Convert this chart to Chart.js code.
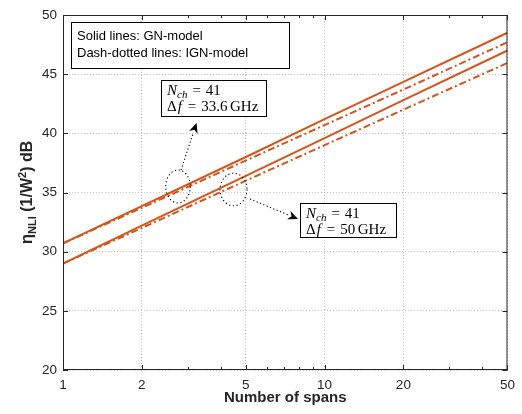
<!DOCTYPE html>
<html>
<head>
<meta charset="utf-8">
<script src="https://cdn.jsdelivr.net/npm/chart.js@4/dist/chart.umd.min.js"></script>
<style>
  html, body { margin: 0; padding: 0; background: #fff; }
  #wrap { width: 522px; height: 414px; }
</style>
</head>
<body>
<div id="wrap"><canvas id="c" width="522" height="414"></canvas></div>
<script>
// Number of spans at which the curves are sampled
const spans = [1, 2, 5, 10, 20, 50];

// eta_NLI in dB, 41 channels, 33.6 GHz spacing
const gn336 = [30.7, 33.85, 38.0, 41.2, 44.35, 48.5];
const ign336 = [30.7, 33.7, 37.7, 40.7, 43.7, 47.7];
// eta_NLI in dB, 41 channels, 50 GHz spacing
const gn50 = [29.0, 32.2, 36.4, 39.6, 42.8, 47.0];
const ign50 = [29.0, 32.0, 36.0, 39.0, 42.0, 45.95];

// Axis ticks
const xTicks = [1, 2, 3, 4, 5, 6, 7, 8, 9, 10, 20, 30, 40, 50];
const xLabelled = [1, 2, 5, 10, 20, 50];
const yTicks = [20, 25, 30, 35, 40, 45, 50];

const ORANGE = '#D95319';
const AXIS = '#262626';
const SANS = '"Liberation Sans", Arial, Helvetica, sans-serif';
const SERIF = '"Liberation Serif", "Times New Roman", serif';
const DASHDOT = [7, 3, 2, 3];

const pts = arr => spans.map((s, i) => ({ x: s, y: arr[i] }));

function series(label, arr, dashed) {
  return {
    label, data: pts(arr),
    borderColor: ORANGE, backgroundColor: ORANGE,
    borderWidth: 2, pointRadius: 0, tension: 0,
    borderDash: dashed ? DASHDOT : []
  };
}

// Draws a line of mixed normal / subscript / superscript runs
function richText(ctx, x, y, runs) {
  let cx = x;
  for (const r of runs) {
    cx += r.gap || 0;
    ctx.font = r.font;
    ctx.fillText(r.t, cx, y + (r.dy || 0));
    cx += ctx.measureText(r.t).width;
  }
  return cx;
}

function dottedArrow(ctx, x0, y0, x1, y1) {
  const a = Math.atan2(y1 - y0, x1 - x0);
  const L = 10, W = 4.5;
  const bx = x1 - L * Math.cos(a), by = y1 - L * Math.sin(a);
  ctx.save();
  ctx.strokeStyle = '#000'; ctx.lineWidth = 1.1;
  ctx.setLineDash([1.2, 2.4]);
  ctx.beginPath(); ctx.moveTo(x0, y0); ctx.lineTo(bx, by); ctx.stroke();
  ctx.setLineDash([]);
  ctx.fillStyle = '#000';
  ctx.beginPath();
  ctx.moveTo(x1, y1);
  ctx.lineTo(bx + W * Math.sin(a), by - W * Math.cos(a));
  ctx.lineTo(x1 - (L - 3) * Math.cos(a), y1 - (L - 3) * Math.sin(a));
  ctx.lineTo(bx - W * Math.sin(a), by + W * Math.cos(a));
  ctx.closePath(); ctx.fill();
  ctx.restore();
}

function dottedEllipse(ctx, cx, cy, rx, ry) {
  ctx.save();
  ctx.strokeStyle = '#000'; ctx.lineWidth = 1.1;
  ctx.setLineDash([1.2, 2.6]);
  ctx.beginPath(); ctx.ellipse(cx, cy, rx, ry, 0, 0, Math.PI * 2); ctx.stroke();
  ctx.restore();
}

const decorations = {
  id: 'decorations',
  afterDraw(chart) {
    const ctx = chart.ctx;
    const { left, right, top, bottom } = chart.chartArea;
    const xs = chart.scales.x, ys = chart.scales.y;
    ctx.save();

    // Axes box with inward ticks
    ctx.strokeStyle = AXIS; ctx.lineWidth = 1;
    ctx.strokeRect(left + 0.5, top + 0.5, right - left - 1, bottom - top - 1);
    ctx.beginPath();
    for (const v of xTicks) {
      const px = Math.round(xs.getPixelForValue(v)) + 0.5;
      const len = xLabelled.includes(v) ? 5 : 3;
      ctx.moveTo(px, bottom); ctx.lineTo(px, bottom - len);
      ctx.moveTo(px, top); ctx.lineTo(px, top + len);
    }
    for (const v of yTicks) {
      const py = Math.round(ys.getPixelForValue(v)) + 0.5;
      ctx.moveTo(left, py); ctx.lineTo(left + 5, py);
      ctx.moveTo(right, py); ctx.lineTo(right - 5, py);
    }
    ctx.stroke();

    // Axis titles
    ctx.fillStyle = AXIS;
    ctx.textBaseline = 'alphabetic';
    ctx.font = 'bold 15px ' + SANS;
    ctx.textAlign = 'center';
    ctx.fillText('Number of spans', (left + right) / 2, 402);

    ctx.save();
    ctx.translate(32, (top + bottom) / 2);
    ctx.rotate(-Math.PI / 2);
    ctx.textAlign = 'left';
    const yRuns = [
      { t: 'η', font: 'bold 17px ' + SANS },
      { t: 'NLI', font: 'bold 11px ' + SANS, dy: 4 },
      { t: ' (1/W', font: 'bold 16px ' + SANS },
      { t: '2', font: 'bold 11px ' + SANS, dy: -6 },
      { t: ') dB', font: 'bold 16px ' + SANS }
    ];
    let w = 0;
    for (const r of yRuns) { ctx.font = r.font; w += ctx.measureText(r.t).width; }
    richText(ctx, -w / 2, 0, yRuns);
    ctx.restore();

    // Legend-style note
    ctx.fillStyle = '#fff'; ctx.strokeStyle = '#000'; ctx.lineWidth = 1;
    ctx.fillRect(71, 22, 218, 46); ctx.strokeRect(71.5, 22.5, 218, 46);
    ctx.fillStyle = '#000'; ctx.textAlign = 'left';
    ctx.font = '13px ' + SANS;
    ctx.fillText('Solid lines: GN-model', 77, 40);
    ctx.fillText('Dash-dotted lines: IGN-model', 77, 57);

    // Annotation boxes
    function annot(x, y, w, h, df) {
      ctx.fillStyle = '#fff'; ctx.fillRect(x, y, w, h);
      ctx.strokeStyle = '#000'; ctx.strokeRect(x + 0.5, y + 0.5, w, h);
      ctx.fillStyle = '#000';
      const tx = x + 6;
      richText(ctx, tx, y + 15, [
        { t: 'N', font: 'italic 15px ' + SERIF },
        { t: 'ch', font: 'italic 11px ' + SERIF, dy: 3 },
        { t: '=', font: '15px ' + SERIF, gap: 5 },
        { t: '41', font: '15px ' + SERIF, gap: 5 }
      ]);
      richText(ctx, tx, y + 31, [
        { t: 'Δ', font: '15px ' + SERIF },
        { t: 'f', font: 'italic 15px ' + SERIF, gap: 1 },
        { t: '=', font: '15px ' + SERIF, gap: 6 },
        { t: df, font: '15px ' + SERIF, gap: 5 },
        { t: 'GHz', font: '15px ' + SERIF, gap: 2.5 }
      ]);
    }
    annot(161, 80, 105, 36, '33.6');
    annot(300, 203, 96, 34, '50');

    // Grouping ellipses and pointers
    dottedEllipse(ctx, 178, 186.5, 12.3, 16.5);
    dottedEllipse(ctx, 233.5, 189.5, 13.5, 16.3);
    dottedArrow(ctx, 181, 170, 196.5, 123);
    dottedArrow(ctx, 250, 199, 298, 219);

    ctx.restore();
  }
};

new Chart(document.getElementById('c'), {
  type: 'line',
  data: {
    datasets: [
      series('GN, Δf = 33.6 GHz', gn336, false),
      series('IGN, Δf = 33.6 GHz', ign336, true),
      series('GN, Δf = 50 GHz', gn50, false),
      series('IGN, Δf = 50 GHz', ign50, true)
    ]
  },
  options: {
    responsive: false,
    animation: false,
    devicePixelRatio: 1,
    layout: { padding: { left: 0, top: 15, right: 9, bottom: 0 } },
    plugins: { legend: { display: false }, tooltip: { enabled: false } },
    scales: {
      x: {
        type: 'logarithmic', min: 1, max: 50,
        afterBuildTicks(s) { s.ticks = xTicks.map(v => ({ value: v })); },
        afterFit(s) { s.height = 44; },
        border: { display: false, dash: [1, 2] },
        grid: {
          drawTicks: false,
          color: c => xLabelled.includes(c.tick && c.tick.value) ? '#c4c4c4' : 'rgba(0,0,0,0)',
          lineWidth: 1
        },
        ticks: {
          padding: 7, autoSkip: false, maxRotation: 0,
          color: AXIS, font: { family: SANS, size: 13.5 },
          callback: v => xLabelled.includes(v) ? String(v) : ''
        }
      },
      y: {
        min: 20, max: 50,
        afterBuildTicks(s) { s.ticks = yTicks.map(v => ({ value: v })); },
        afterFit(s) { s.width = 63; },
        border: { display: false, dash: [1, 2] },
        grid: { drawTicks: false, color: '#c4c4c4', lineWidth: 1 },
        ticks: { padding: 6, color: AXIS, font: { family: SANS, size: 13.5 } }
      }
    }
  },
  plugins: [decorations]
});
</script>
</body>
</html>
